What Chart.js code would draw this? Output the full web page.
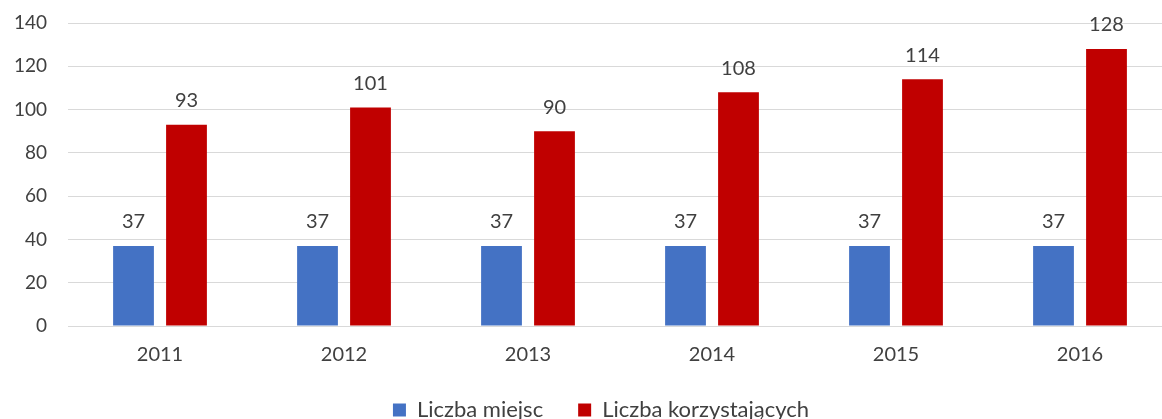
<!DOCTYPE html>
<html>
<head>
<meta charset="utf-8">
<script src="https://cdn.jsdelivr.net/npm/chart.js@4"></script>
<style>
    html, body { margin: 0; padding: 0; background: #ffffff; overflow: hidden; }
    #wrap { width: 1172px; height: 431px; }
</style>
</head>
<body>
<div id="wrap"><canvas id="graph1"></canvas></div>
<script>
const years = ['2011', '2012', '2013', '2014', '2015', '2016'];
const miejsca = [37, 37, 37, 37, 37, 37];
const korzystajacy = [93, 101, 90, 108, 114, 128];
const yTicks = [0, 20, 40, 60, 80, 100, 120, 140];

const fontName = 'Lato, "Open Sans", sans-serif';

// etykiety wartosci nad slupkami
const valueLabels = {
    id: 'valueLabels',
    beforeDraw(chart) {
        // legenda troche w prawo, jak w oryginale
        chart.legend.left = 30;
    },
    afterDatasetsDraw(chart) {
        const ctx = chart.ctx;
        ctx.save();
        ctx.font = '20px ' + fontName;
        ctx.fillStyle = '#404040';
        ctx.textAlign = 'center';
        ctx.textBaseline = 'bottom';
        chart.data.datasets.forEach((ds, i) => {
            chart.getDatasetMeta(i).data.forEach((bar, j) => {
                ctx.fillText(ds.data[j], bar.x, bar.y - 14);
            });
        });
        ctx.restore();
    }
};

const chart1 = document.getElementById('graph1').getContext('2d');
const myChart1 = new Chart(chart1, {
    type: 'bar',
    data: {
        labels: years,
        datasets: [
            {
                label: 'Liczba miejsc',
                data: miejsca,
                backgroundColor: '#4472C4',
                borderWidth: 0
            },
            {
                label: 'Liczba korzystających',
                data: korzystajacy,
                backgroundColor: '#C00000',
                borderWidth: 0
            }
        ]
    },
    options: {
        responsive: true,
        maintainAspectRatio: false,
        animation: false,
        categoryPercentage: 0.576,
        barPercentage: 0.77,
        layout: {
            padding: { top: 23, left: 0, right: 0, bottom: 0 }
        },
        scales: {
            x: {
                grid: { display: false, drawTicks: false },
                border: { display: true, color: '#d9d9d9' },
                afterFit(scale) {
                    scale.height = 38;
                },
                ticks: {
                    color: '#404040',
                    padding: 17,
                    font: { family: fontName, size: 20 }
                }
            },
            y: {
                min: 0,
                max: 140,
                afterBuildTicks(scale) {
                    scale.ticks = yTicks.map(v => ({ value: v }));
                },
                afterFit(scale) {
                    scale.width = 68;
                    scale.paddingTop = 0;
                    scale.paddingBottom = 0;
                },
                grid: { color: '#d9d9d9', drawTicks: false },
                border: { display: false },
                ticks: {
                    color: '#404040',
                    padding: 21,
                    font: { family: fontName, size: 19 }
                }
            }
        },
        plugins: {
            legend: {
                position: 'bottom',
                labels: {
                    color: '#404040',
                    boxWidth: 13,
                    boxHeight: 13,
                    padding: 35,
                    font: { family: fontName, size: 22 }
                }
            },
            tooltip: { enabled: false }
        }
    },
    plugins: [valueLabels]
});
</script>
</body>
</html>
